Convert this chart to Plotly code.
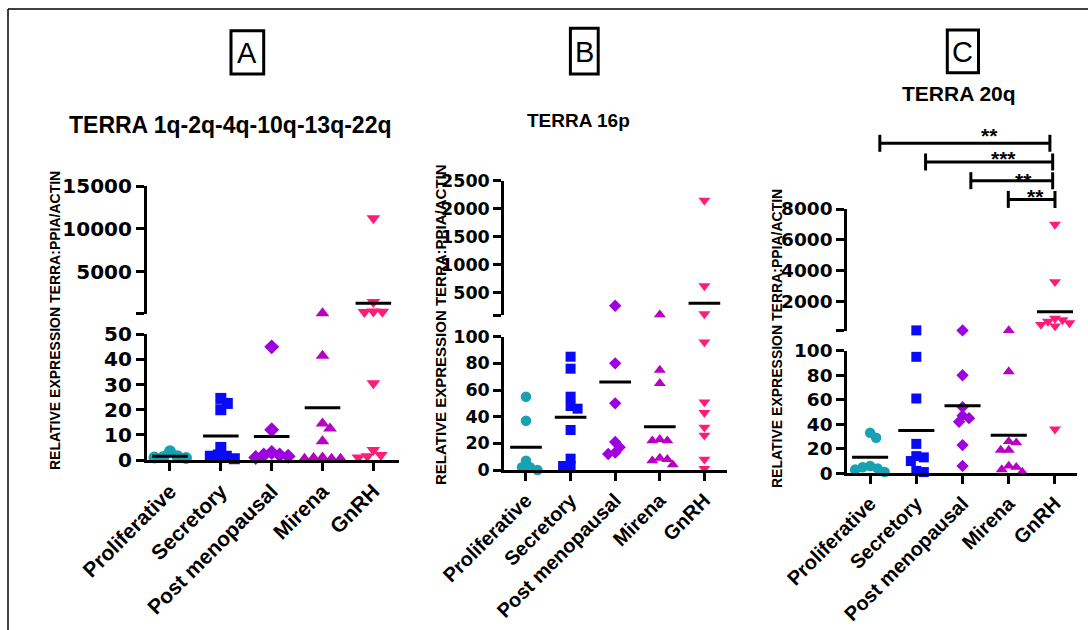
import plotly.graph_objects as go

W, H = 1088, 630

groups = ["Proliferative", "Secretory", "Post menopausal", "Mirena", "GnRH"]

# ---- TERRA 1q-2q-4q-10q-13q-22q ----
proliferative_a = [3.5, 1.5, 1.2, 1.0, 0.8, 0.5]
secretory_a = [24.5, 22.5, 20.0, 5.0, 2.0, 1.5, 1.5, 0.5]
postmeno_a = [45.0, 12.0, 3.0, 2.0, 2.0, 1.5, 1.0]
mirena_a = [150, 41.5, 14.5, 12.5, 7.5, 1.0, 0.8, 0.5, 0.5, 0.5]
gnrh_a = [11250, 1450, 340, 320, 300, 30.5, 4.0, 2.0, 1.5, 1.0]
means_a = [1.5, 9.5, 9.3, 20.8, 1310]
low_ticks_a = [0, 10, 20, 30, 40, 50]
up_ticks_a = [5000, 10000, 15000]

# ---- TERRA 16p ----
proliferative_b = [55, 37, 7, 2, 2, 0]
secretory_b = [85, 76, 55, 48, 46, 30, 8.5, 3, 3]
postmeno_b = [265, 80, 50, 21, 17, 13, 12]
mirena_b = [105, 75, 65, 23, 22, 22, 9, 8, 7, 4]
gnrh_b = [2150, 620, 120, 96, 51, 43, 32, 26, 8, 1]
means_b = [17, 39.5, 66, 32.5, 310]
low_ticks_b = [0, 20, 40, 60, 80, 100]
up_ticks_b = [500, 1000, 1500, 2000, 2500]

# ---- TERRA 20q ----
proliferative_c = [33, 29, 6, 5, 4, 3, 1]
secretory_c = [120, 95, 61, 24, 14, 13, 10, 2, 1]
postmeno_c = [120, 80, 54, 47, 45, 42, 23, 6]
mirena_c = [120, 83, 26, 25, 19, 19, 6, 5, 3, 1]
gnrh_c = [7000, 3270, 900, 800, 700, 600, 500, 400, 36]
means_c = [13, 35, 55, 31, 1330]
low_ticks_c = [0, 20, 40, 60, 80, 100]
up_ticks_c = [2000, 4000, 6000, 8000]

# significance brackets (panel C), each against GnRH
sig_labels = ["**", "***", "**", "**"]

# ---- styling ----
colors = ["#17A2B4", "#0A0AFA", "#9E00E0", "#B800C4", "#FF1C78"]
symbols = ["circle", "square", "diamond", "triangle-up", "triangle-down"]
ARIAL = "Liberation Sans, Arial, sans-serif"
NUMFONT = "DejaVu Sans, Liberation Sans, sans-serif"

panels = [
    dict(title="TERRA 1q-2q-4q-10q-13q-22q", letter="A",
         data=[proliferative_a, secretory_a, postmeno_a, mirena_a, gnrh_a], means=means_a,
         x_px=(146.7, 399.3), x_range=(-0.458, 4.51),
         low_px=(460.0, 334.3), low_range=(0, 50), low_ticks=low_ticks_a,
         up_px=(313.6, 186.1), up_range=(100, 15000), up_ticks=up_ticks_a,
         sizes=[12, 11, 11.5, 12, 12], mean_half=0.35,
         num_size=20, cat_size=21, ytitle_size=14, ytitle_xy=(55, 321),
         title_xy=(230, 125), title_size=23, letter_box=(231, 30.7, 263.7, 74)),
    dict(title="TERRA 16p", letter="B",
         data=[proliferative_b, secretory_b, postmeno_b, mirena_b, gnrh_b], means=means_b,
         x_px=(504.0, 726.7), x_range=(-0.493, 4.5),
         low_px=(470.0, 336.7), low_range=(0, 100), low_ticks=low_ticks_b,
         up_px=(315.0, 180.7), up_range=(100, 2500), up_ticks=up_ticks_b,
         sizes=[10.5, 10, 9.5, 10.5, 10.5], mean_half=0.355,
         num_size=17.5, cat_size=20, ytitle_size=15, ytitle_xy=(440, 325),
         title_xy=(578, 120), title_size=19, letter_box=(570.4, 28.3, 598.2, 74)),
    dict(title="TERRA 20q", letter="C",
         data=[proliferative_c, secretory_c, postmeno_c, mirena_c, gnrh_c], means=means_c,
         x_px=(847.0, 1076.7), x_range=(-0.5, 4.47),
         low_px=(473.3, 350.7), low_range=(0, 100), low_ticks=low_ticks_c,
         up_px=(330.7, 209.0), up_range=(100, 8000), up_ticks=up_ticks_c,
         sizes=[10.5, 10, 9.5, 10.5, 10.5], mean_half=0.39,
         num_size=18.5, cat_size=20, ytitle_size=14, ytitle_xy=(777, 339),
         title_xy=(958.7, 93), title_size=21, letter_box=(947.3, 30, 978.5, 72.7)),
]

# bracket geometry for panel C (x in category units, y in pixels)
sig_from = [0.21, 1.20, 2.18, 2.99]
sig_to = [3.89, 3.95, 3.95, 4.0]
sig_top_px, sig_step_px, sig_cap_px = 143.3, 18.7, 8.5
sig_text_x = [2.59, 2.88, 3.31, 3.57]
sig_text_rise = [12.5, 8.7, 5.7, 8.1]


def px_to_paper_y(py):
    return 1 - py / H


def value_to_px(v, P):
    lo0, lo1 = P["low_range"]
    if v <= lo1:
        b, t = P["low_px"]
        return b - (v - lo0) / (lo1 - lo0) * (b - t)
    u0, u1 = P["up_range"]
    b, t = P["up_px"]
    return b - (v - u0) / (u1 - u0) * (b - t)


def swarm(px_y, size, overlap=0.72):
    """Horizontal pixel offsets so that markers with close values sit side by side."""
    d = size * overlap
    placed, out = [], [0.0] * len(px_y)
    order = sorted(range(len(px_y)), key=lambda i: px_y[i])
    side = 1
    for i in order:
        y = px_y[i]
        best = None
        k = 0
        while best is None:
            for sgn in ((1,) if k == 0 else (side, -side)):
                x = sgn * k * 0.5
                if all((x - qx) ** 2 + (y - qy) ** 2 >= d * d for qx, qy in placed):
                    best = x
                    break
            k += 1
        if best > 0:
            side = -1
        elif best < 0:
            side = 1
        placed.append((best, y))
        out[i] = best
    return out


fig = go.Figure()
layout = dict(width=W, height=H, margin=dict(l=0, r=0, t=0, b=0, pad=0, autoexpand=False),
              paper_bgcolor="white", plot_bgcolor="white", showlegend=False)
shapes, annotations = [], []

for p, P in enumerate(panels):
    xs = "" if p == 0 else str(p + 1)
    lo_n, up_n = 2 * p + 1, 2 * p + 2
    xname = "x" + xs
    lo_name = "y" if lo_n == 1 else f"y{lo_n}"
    up_name = f"y{up_n}"
    x_ppu = (P["x_px"][1] - P["x_px"][0]) / (P["x_range"][1] - P["x_range"][0])
    low_max = P["low_range"][1]

    for g, vals in enumerate(P["data"]):
        pys = [value_to_px(v, P) for v in vals]
        offs = swarm(pys, P["sizes"][g])
        for seg, yname in (("low", lo_name), ("up", up_name)):
            idx = [i for i, v in enumerate(vals) if (v <= low_max) == (seg == "low")]
            if not idx:
                continue
            fig.add_trace(go.Scatter(
                x=[g + offs[i] / x_ppu for i in idx], y=[vals[i] for i in idx],
                xaxis=xname, yaxis=yname, mode="markers", cliponaxis=False,
                marker=dict(symbol=symbols[g], size=P["sizes"][g], color=colors[g],
                            line=dict(width=0)),
                hoverinfo="y", name=groups[g]))
    for g, m in enumerate(P["means"]):
        fig.add_trace(go.Scatter(
            x=[g - P["mean_half"], g + P["mean_half"]], y=[m, m],
            xaxis=xname, yaxis=lo_name if m <= low_max else up_name,
            mode="lines", line=dict(color="black", width=3), cliponaxis=False,
            hoverinfo="skip"))

    axis_common = dict(showline=True, linecolor="black", linewidth=2.5, ticks="outside",
                       ticklen=8, tickwidth=2.5, tickcolor="black", showgrid=False,
                       zeroline=False, fixedrange=True, automargin=False)
    layout["xaxis" + xs] = dict(
        axis_common, domain=[P["x_px"][0] / W, P["x_px"][1] / W], range=list(P["x_range"]),
        anchor=lo_name, tickmode="array", tickvals=list(range(len(groups))), ticktext=groups,
        tickangle=-45, tickfont=dict(family=ARIAL, size=P["cat_size"], color="black", weight="bold"))
    layout["yaxis" if lo_n == 1 else f"yaxis{lo_n}"] = dict(
        axis_common, domain=[px_to_paper_y(P["low_px"][0]), px_to_paper_y(P["low_px"][1])],
        range=list(P["low_range"]), anchor=xname, tickmode="array",
        tickvals=P["low_ticks"], ticktext=[str(t) for t in P["low_ticks"]],
        tickfont=dict(family=NUMFONT, size=P["num_size"], color="black", weight="bold"))
    layout[f"yaxis{up_n}"] = dict(
        axis_common, domain=[px_to_paper_y(P["up_px"][0]), px_to_paper_y(P["up_px"][1])],
        range=list(P["up_range"]), anchor=xname, tickmode="array",
        tickvals=[P["up_range"][0]] + P["up_ticks"], ticktext=[""] + [str(t) for t in P["up_ticks"]],
        tickfont=dict(family=NUMFONT, size=P["num_size"], color="black", weight="bold"))

    # y-axis title spanning both segments
    annotations.append(dict(
        text="RELATIVE EXPRESSION TERRA:PPIA/ACTIN", textangle=-90, showarrow=False,
        xref="paper", yref="paper", x=P["ytitle_xy"][0] / W, y=px_to_paper_y(P["ytitle_xy"][1]),
        xanchor="center", yanchor="middle",
        font=dict(family=ARIAL, size=P["ytitle_size"], color="black", weight="bold")))
    # panel title
    annotations.append(dict(
        text=P["title"], showarrow=False, xref="paper", yref="paper",
        x=P["title_xy"][0] / W, y=px_to_paper_y(P["title_xy"][1]), xanchor="center", yanchor="middle",
        font=dict(family=ARIAL, size=P["title_size"], color="black", weight="bold")))
    # boxed panel letter
    bx0, by0, bx1, by1 = P["letter_box"]
    shapes.append(dict(type="rect", xref="paper", yref="paper", x0=bx0 / W, x1=bx1 / W,
                       y0=px_to_paper_y(by1), y1=px_to_paper_y(by0),
                       line=dict(color="black", width=3)))
    annotations.append(dict(
        text=P["letter"], showarrow=False, xref="paper", yref="paper",
        x=(bx0 + bx1) / 2 / W, y=px_to_paper_y((by0 + by1) / 2 + 1), xanchor="center", yanchor="middle",
        font=dict(family=ARIAL, size=29, color="black")))

# significance brackets on panel C
for k, lab in enumerate(sig_labels):
    yb = sig_top_px + k * sig_step_px
    for (xa, xb, ya, yb2) in ((sig_from[k], sig_to[k], yb, yb),
                              (sig_from[k], sig_from[k], yb - sig_cap_px, yb + sig_cap_px),
                              (sig_to[k], sig_to[k], yb - sig_cap_px, yb + sig_cap_px)):
        shapes.append(dict(type="line", xref="x3", yref="paper", x0=xa, x1=xb,
                           y0=px_to_paper_y(ya), y1=px_to_paper_y(yb2),
                           line=dict(color="black", width=3)))
    # asterisks sit high in the glyph box, so the box centre goes a little below them
    annotations.append(dict(
        text=lab, showarrow=False, xref="x3", yref="paper", x=sig_text_x[k],
        y=px_to_paper_y(yb - sig_text_rise[k] + 5), xanchor="center", yanchor="middle",
        font=dict(family=ARIAL, size=21, color="black", weight="bold")))

# outer frame
shapes.append(dict(type="line", xref="paper", yref="paper", x0=8 / W, x1=1, y0=px_to_paper_y(9),
                   y1=px_to_paper_y(9), line=dict(color="black", width=1.5)))
shapes.append(dict(type="line", xref="paper", yref="paper", x0=8 / W, x1=8 / W, y0=px_to_paper_y(9),
                   y1=0, line=dict(color="black", width=1.5)))

layout["shapes"] = shapes
layout["annotations"] = annotations
fig.update_layout(**layout)
fig.write_html("out.html")
